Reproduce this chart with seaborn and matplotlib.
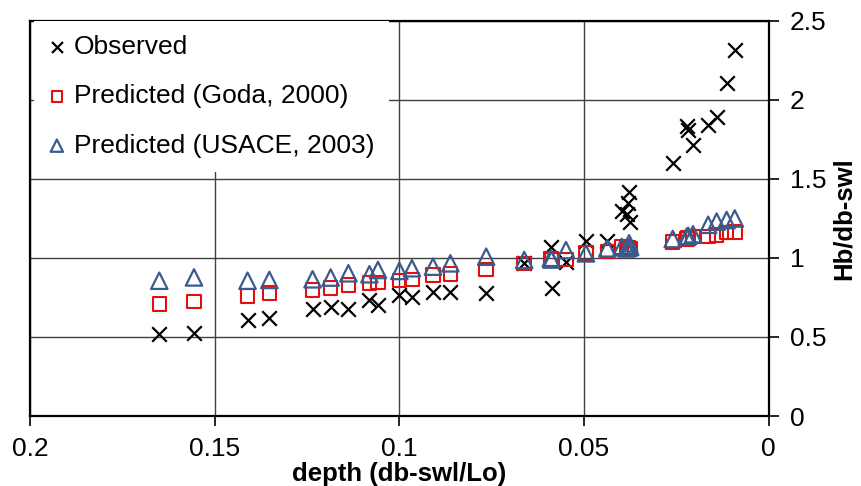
import numpy as np
import pandas as pd
import seaborn as sns
import matplotlib
matplotlib.use('Agg')
import matplotlib.pyplot as plt

# depth (db-swl/Lo) for each case
depth = [0.1650, 0.1556, 0.1411, 0.1352, 0.1235, 0.1186, 0.1138, 0.1081, 0.1058, 0.1000,
         0.0966, 0.0909, 0.0862, 0.0765, 0.0662, 0.0590, 0.0588, 0.0549, 0.0495, 0.0437,
         0.0398, 0.0385, 0.0380, 0.0378, 0.0375, 0.0260, 0.0222, 0.0218, 0.0205, 0.0164,
         0.0141, 0.0114, 0.0092]

observed = [0.52, 0.525, 0.61, 0.62, 0.675, 0.69, 0.68, 0.735, 0.705, 0.765,
            0.755, 0.787, 0.787, 0.78, 0.97, 1.07, 0.81, 0.977, 1.11, 1.11,
            1.30, 1.28, 1.35, 1.42, 1.23, 1.60, 1.835, 1.81, 1.715, 1.842,
            1.89, 2.11, 2.316]

goda = [0.71, 0.725, 0.76, 0.78, 0.797, 0.81, 0.83, 0.84, 0.846, 0.856,
        0.865, 0.892, 0.90, 0.928, 0.966, 0.995, 0.99, 0.99, 1.03, 1.04,
        1.07, 1.06, 1.065, 1.06, 1.06, 1.10, 1.12, 1.125, 1.135, 1.135,
        1.146, 1.16, 1.166]

usace = [0.856, 0.877, 0.856, 0.861, 0.865, 0.876, 0.903, 0.897, 0.924, 0.918,
         0.935, 0.945, 0.966, 1.008, 0.987, 0.998, 0.99, 1.05, 1.029, 1.061,
         1.07, 1.06, 1.065, 1.093, 1.07, 1.12, 1.135, 1.14, 1.15, 1.21,
         1.23, 1.24, 1.25]

df = pd.DataFrame({'depth': depth, 'obs': observed, 'goda': goda, 'usace': usace})

sns.set_style('white')
plt.rcParams['font.family'] = ['Liberation Sans', 'DejaVu Sans']
plt.rcParams['text.color'] = 'black'
plt.rcParams['xtick.color'] = 'black'
plt.rcParams['ytick.color'] = 'black'
plt.rcParams['axes.labelcolor'] = 'black'

fig = plt.figure(figsize=(8.62, 4.86), dpi=100)
ax = fig.add_axes([0.0348, 0.144, 0.857, 0.813])

sns.scatterplot(data=df, x='depth', y='obs', marker='x', color='black', s=110,
                linewidth=1.6, ax=ax, label='Observed', zorder=3)
sns.scatterplot(data=df, x='depth', y='goda', marker='s', facecolor='none',
                edgecolor='#e01010', s=95, linewidth=1.5, ax=ax,
                label='Predicted (Goda, 2000)', zorder=3)
sns.scatterplot(data=df, x='depth', y='usace', marker='^', facecolor='none',
                edgecolor='#3a5b8c', s=140, linewidth=1.6, ax=ax,
                label='Predicted (USACE, 2003)', zorder=3)

ax.set_xlim(0.2, 0)
ax.set_ylim(0, 2.5)
ax.set_xticks([0.2, 0.15, 0.1, 0.05, 0])
ax.set_xticklabels(['0.2', '0.15', '0.1', '0.05', '0'])
ax.set_yticks([0, 0.5, 1, 1.5, 2, 2.5])
ax.set_yticklabels(['0', '0.5', '1', '1.5', '2', '2.5'])

ax.yaxis.tick_right()
ax.yaxis.set_label_position('right')
ax.tick_params(axis='both', labelsize=19, length=7, width=1.2, color='black',
               direction='out', pad=8)
ax.tick_params(axis='y', left=False, right=True)
ax.tick_params(axis='x', bottom=True)

ax.grid(True, color='#404040', linewidth=1.0, zorder=0)
ax.set_axisbelow(True)
for sp in ax.spines.values():
    sp.set_color('black')
    sp.set_linewidth(1.6)

ax.set_xlabel('depth (db-swl/Lo)', fontsize=18.5, fontweight='bold', labelpad=1)
ax.set_ylabel('Hb/db-swl', fontsize=18.5, fontweight='bold', labelpad=4)

leg = ax.legend(loc='upper left', bbox_to_anchor=(0.006, 1.0), borderaxespad=0,
                fontsize=19, frameon=True, fancybox=False, edgecolor='none',
                facecolor='white', framealpha=1, markerscale=0.75,
                handlelength=0.6, handletextpad=0.35, labelspacing=0.95,
                borderpad=0.55)
leg.set_zorder(5)

fig.savefig('out.png', dpi=100)
